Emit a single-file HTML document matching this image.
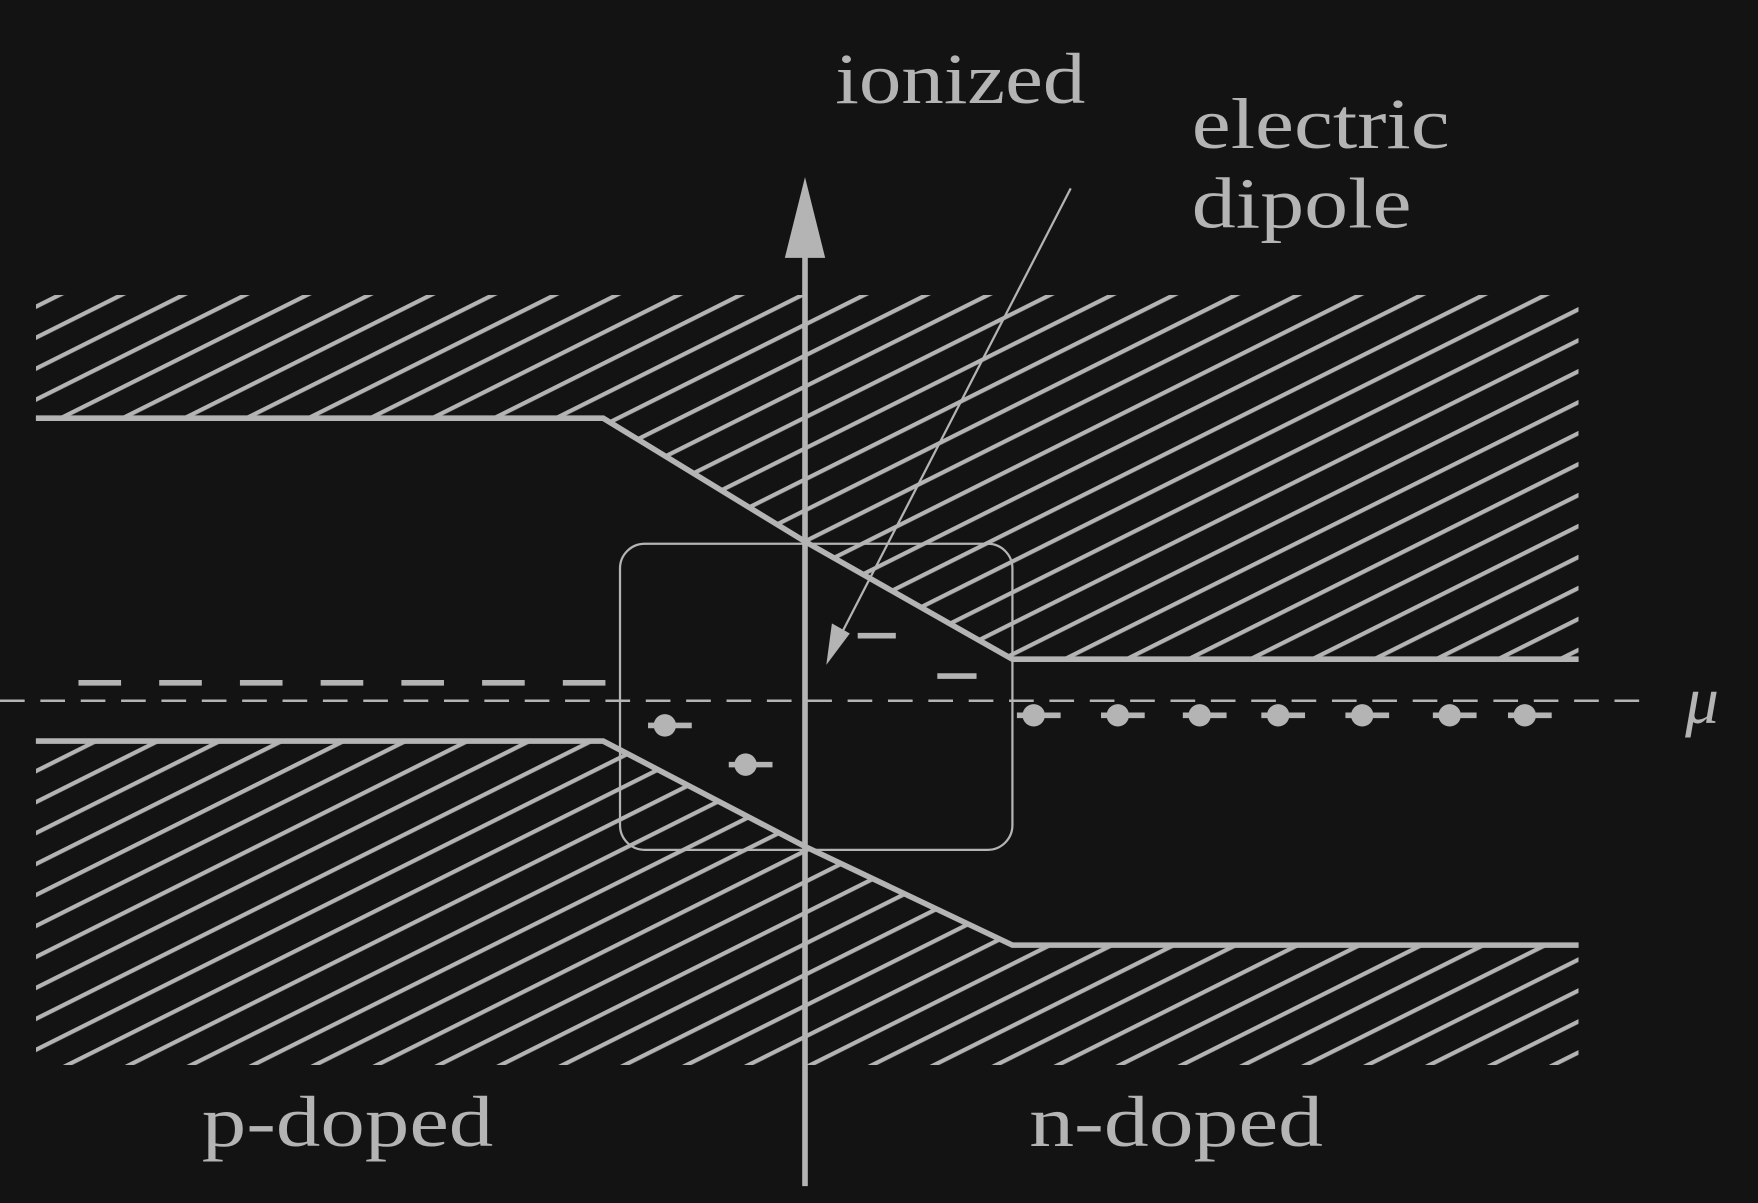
<!DOCTYPE html>
<html><head><meta charset="utf-8"><style>
html,body{margin:0;padding:0;background:#131313;}
svg{display:block;}
text{font-family:"Liberation Serif",serif;fill:#b4b4b4;}
</style></head><body>
<svg width="1758" height="1203" viewBox="0 0 1568 1073" preserveAspectRatio="none" xmlns="http://www.w3.org/2000/svg">
<defs>
<pattern id="hatch" patternUnits="userSpaceOnUse" width="40" height="24.7" patternTransform="rotate(-26.57)">
<line x1="-2" y1="12" x2="42" y2="12" stroke="#b4b4b4" stroke-width="3.8"/>
</pattern>
<clipPath id="topclip"><path d="M32 263 H1408 V588 H903 L718 483 L538 373 H32 Z"/></clipPath>
<clipPath id="botclip"><path d="M32 661 H538 L718 755 L903 843 H1408 V950 H32 Z"/></clipPath>
</defs>
<rect width="1568" height="1073" fill="#131313"/>
<rect x="32" y="263" width="1376" height="330" fill="url(#hatch)" clip-path="url(#topclip)"/>
<rect x="32" y="655" width="1376" height="295" fill="url(#hatch)" clip-path="url(#botclip)"/>
<polyline points="32,373 538,373 718,483 903,588 1408,588" fill="none" stroke="#b4b4b4" stroke-width="5"/>
<polyline points="32,661 538,661 718,755 903,843 1408,843" fill="none" stroke="#b4b4b4" stroke-width="5"/>
<line x1="0" y1="625" x2="1470" y2="625" stroke="#b4b4b4" stroke-width="2.2" stroke-dasharray="22 14"/>
<text x="1503" y="645" font-size="60" font-style="italic">μ</text>
<line x1="70" y1="609" x2="545" y2="609" stroke="#b4b4b4" stroke-width="5" stroke-dasharray="38 34"/>
<line x1="718" y1="1058" x2="718" y2="220" stroke="#b4b4b4" stroke-width="5"/>
<polygon points="718,158 700,230 736,230" fill="#b4b4b4"/>
<rect x="553" y="485" width="350" height="273" rx="22" fill="none" stroke="#b4b4b4" stroke-width="2"/>
<line x1="765" y1="567" x2="799" y2="567" stroke="#b4b4b4" stroke-width="5"/>
<line x1="836" y1="603" x2="871" y2="603" stroke="#b4b4b4" stroke-width="5"/>
<line x1="955" y1="168" x2="748" y2="570" stroke="#b4b4b4" stroke-width="2"/>
<polygon points="737,593 742,556 758,565" fill="#b4b4b4"/>
<g id="dots"></g>
<text x="745" y="92" font-size="64" textLength="223" lengthAdjust="spacingAndGlyphs">ionized</text>
<text x="1063" y="132" font-size="64" textLength="230" lengthAdjust="spacingAndGlyphs">electric</text>
<text x="1063" y="203" font-size="64" textLength="196" lengthAdjust="spacingAndGlyphs">dipole</text>
<text x="180" y="1022" font-size="64" textLength="260" lengthAdjust="spacingAndGlyphs">p-doped</text>
<text x="918" y="1022" font-size="64" textLength="262" lengthAdjust="spacingAndGlyphs">n-doped</text>
</svg>
<script>
const dotX = [593, 665, 922, 997, 1070, 1140, 1215, 1293, 1360];
const dotY = [647, 682, 638, 638, 638, 638, 638, 638, 638];
const g = document.getElementById('dots');
const NS = 'http://www.w3.org/2000/svg';
dotX.forEach((x, i) => {
  const grp = document.createElementNS(NS, 'g');
  
  
  const c = document.createElementNS(NS, 'circle');
  c.setAttribute('cx', x); c.setAttribute('cy', dotY[i]); c.setAttribute('r', 10);
  c.setAttribute('fill', '#b4b4b4');
  const l = document.createElementNS(NS, 'line');
  l.setAttribute('x1', x - 15); l.setAttribute('x2', x + 24);
  l.setAttribute('y1', dotY[i]); l.setAttribute('y2', dotY[i]);
  l.setAttribute('stroke', '#b4b4b4'); l.setAttribute('stroke-width', 5);
  grp.appendChild(c); grp.appendChild(l); g.appendChild(grp);
});
</script>
</body></html>
